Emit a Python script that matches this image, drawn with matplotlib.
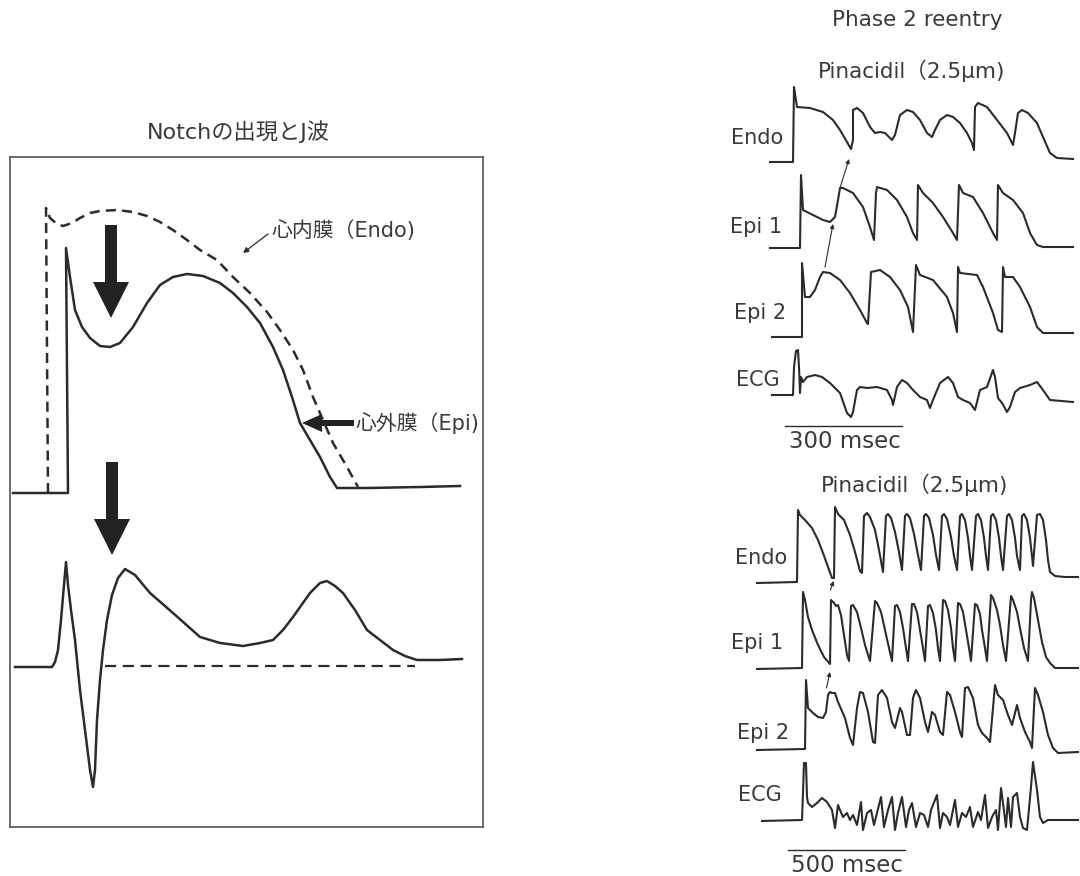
import numpy as np
import matplotlib
matplotlib.use("Agg")
import matplotlib.pyplot as plt
from matplotlib.patches import FancyArrow

FONT = ['DejaVu Sans', 'Noto Sans CJK JP']
plt.rcParams['font.family'] = FONT
INK = '#2b2b2b'
TXT = '#3a3a3a'

# ---------------- left panel data (time px, potential px; y grows downward) -------------
epi_ap = [(13,493),(68,493),(66,248),(70,277),(75,310),(82,327),(90,338),(100,346),(110,347),
          (120,343),(133,327),(147,303),(160,285),(173,277),(187,274),(203,276),(220,283),
          (233,293),(247,307),(260,323),(273,347),(283,370),(292,397),(300,423),(310,440),
          (320,457),(330,477),(337,488),(367,488),(420,487),(460,486)]
endo_ap = [(48,493),(46,208),(50,218),(57,224),(63,226),(72,223),(80,218),(90,213),(100,211),
           (117,210),(133,212),(147,216),(160,222),(173,230),(187,240),(200,250),(217,260),
           (233,277),(250,293),(267,312),(280,330),(293,350),(303,370),(313,397),(323,420),
           (333,443),(347,467),(358,487)]
ecg_left = [(15,667),(52,667),(55,662),(58,650),(61,620),(64,585),(66,562),(68,585),(71,610),
            (75,640),(80,690),(85,730),(90,770),(93,787),(95,770),(97,720),(100,680),(103,650),
            (107,620),(112,595),(118,578),(125,569),(135,575),(150,593),(173,613),(200,637),
            (220,643),(243,646),(260,643),(273,640),(283,630),(293,617),(310,593),(320,583),
            (327,581),(335,586),(343,593),(355,610),(367,630),(380,640),(393,650),(405,656),
            (417,660),(440,660),(462,659)]
ecg_baseline = [(105,666),(415,666)]

# ---------------- right panel, top (Phase 2 reentry) -------------
endo_top = [(770,162),(793,162),(794,87),(797,107),(810,108),(823,112),(833,120),(840,130),
            (847,142),(851,149),(853,140),(853,110),(857,108),(863,113),(870,127),(875,133),
            (880,132),(885,133),(892,140),(895,135),(900,115),(907,110),(913,112),(920,120),
            (927,133),(932,137),(935,130),(940,120),(947,115),(953,117),(960,123),(967,133),
            (972,143),(974,150),(975,107),(978,103),(987,107),(997,120),(1007,133),(1013,145),
            (1015,133),(1018,113),(1022,110),(1028,113),(1037,123),(1043,137),(1050,153),
            (1057,158),(1073,159)]
epi1_top = [(770,248),(800,248),(801,175),(803,210),(813,215),(823,220),(830,222),(835,217),
            (838,200),(840,188),(843,188),(853,193),(863,207),(870,227),(874,240),(876,193),
            (877,187),(887,190),(897,200),(907,217),(913,233),(917,240),(918,185),(923,193),
            (933,203),(943,217),(953,233),(957,240),(959,185),(963,193),(973,197),(983,213),
            (993,233),(997,240),(998,185),(1003,193),(1013,200),(1023,213),(1030,233),
            (1037,245),(1043,247),(1073,247)]
epi2_top = [(772,337),(802,337),(802,263),(805,297),(810,297),(815,290),(820,277),(823,272),
            (830,273),(840,280),(850,293),(860,310),(867,323),(868,324),(871,272),(880,270),
            (890,277),(900,290),(908,307),(913,332),(916,265),(920,275),(933,280),(947,297),
            (953,313),(957,332),(958,267),(960,273),(977,275),(983,287),(993,313),(998,330),
            (1002,332),(1003,267),(1005,277),(1013,277),(1020,287),(1030,307),(1037,327),
            (1043,333),(1073,333)]
ecg_top = [(772,395),(793,395),(794,367),(796,351),(798,350),(799,367),(800,393),(801,377),
           (803,382),(807,377),(815,375),(822,377),(830,383),(840,393),(847,413),(851,417),
           (853,412),(857,390),(860,387),(867,388),(877,387),(887,390),(892,400),(893,405),
           (897,387),(902,380),(907,383),(913,390),(920,397),(927,400),(930,408),(933,400),
           (940,383),(948,377),(953,383),(958,397),(963,400),(970,403),(975,410),(980,390),
           (987,387),(993,370),(995,377),(998,398),(1002,403),(1007,412),(1010,407),
           (1015,392),(1020,388),(1030,385),(1037,382),(1043,390),(1050,400),(1073,402)]

# ---------------- right panel, bottom -------------
endo_bot = [(757,583),(797,582),(798,510),(800,515),(805,520),(812,528),(818,540),(823,553),
            (828,567),(832,578),(834,578),(835,507),(838,514),(844,520),(850,535),(855,552),
            (860,571),(862,573),(864,516),(867,513),(870,517),(875,530),(879,550),(883,572),
            (886,516),(888,514),(891,518),(895,532),(899,552),(902,570),(905,516),(907,514),
            (910,518),(914,534),(918,555),(921,570),(924,516),(926,514),(929,518),(933,535),
            (936,555),(939,570),(942,516),(944,514),(947,519),(951,537),(954,556),(957,570),
            (960,516),(962,514),(965,520),(968,538),(970,556),(972,570),(976,516),(978,514),
            (981,520),(984,538),(986,556),(988,570),(991,516),(993,514),(996,520),(999,538),
            (1001,556),(1003,570),(1007,516),(1009,514),(1012,520),(1015,538),(1017,556),
            (1020,570),(1022,516),(1024,514),(1027,520),(1030,538),(1032,556),(1033,566),
            (1037,515),(1040,514),(1043,520),(1046,540),(1048,560),(1050,572),(1055,576),
            (1065,577),(1078,577)]
epi1_bot = [(757,669),(802,668),(803,592),(805,600),(808,617),(812,630),(818,645),(824,657),
            (830,664),(831,600),(834,603),(836,606),(838,605),(841,615),(844,635),(847,655),
            (849,661),(851,606),(853,605),(857,612),(861,628),(865,645),(869,658),(870,661),
            (875,601),(877,603),(881,612),(885,630),(889,648),(892,661),(895,606),(897,605),
            (900,612),(903,628),(906,648),(908,661),(912,604),(914,604),(917,612),(920,630),
            (923,648),(925,661),(928,606),(930,605),(933,613),(936,630),(938,648),(940,661),
            (943,600),(945,601),(948,610),(951,628),(953,648),(955,661),(958,603),(960,604),
            (963,612),(966,630),(969,648),(971,661),(975,604),(977,605),(980,614),(982,630),
            (985,648),(987,661),(991,595),(993,598),(997,610),(1000,625),(1003,645),(1006,661),
            (1011,596),(1013,600),(1017,612),(1020,628),(1024,648),(1028,661),(1031,600),
            (1032,592),(1034,598),(1038,620),(1042,642),(1046,657),(1050,663),(1055,668),
            (1078,668)]
epi2_bot = [(757,750),(805,749),(806,680),(808,708),(813,713),(818,717),(823,718),(826,712),
            (828,695),(830,692),(832,693),(835,693),(838,702),(845,718),(850,738),(853,745),
            (857,708),(860,692),(863,693),(868,712),(873,742),(875,743),(878,695),(882,690),
            (887,698),(892,722),(895,728),(900,708),(902,712),(907,735),(910,735),(913,698),
            (916,690),(920,698),(925,722),(928,732),(932,712),(935,715),(940,732),(943,735),
            (947,692),(950,695),(955,712),(960,732),(962,737),(965,688),(968,687),(973,698),
            (978,725),(982,733),(987,738),(990,742),(995,685),(998,695),(1003,700),(1008,715),
            (1012,725),(1017,705),(1020,718),(1025,732),(1030,742),(1032,748),(1035,688),
            (1038,695),(1043,712),(1048,735),(1053,748),(1058,753),(1078,752)]
ecg_bot = [(762,821),(802,820),(803,793),(804,763),(806,763),(807,797),(808,803),(812,807),
           (817,803),(822,798),(827,802),(832,810),(835,828),(838,805),(840,810),(843,817),
           (847,813),(850,820),(853,815),(857,825),(861,802),(863,830),(867,813),(871,810),
           (874,825),(877,813),(881,797),(884,827),(888,810),(892,797),(895,830),(898,813),
           (902,797),(906,827),(909,810),(912,803),(916,827),(920,813),(924,815),(928,827),
           (931,810),(937,795),(940,828),(943,813),(947,817),(950,825),(955,800),(958,827),
           (962,813),(966,817),(970,807),(973,827),(978,812),(981,820),(985,795),(988,828),
           (992,817),(996,810),(998,830),(1001,788),(1003,803),(1006,827),(1008,798),
           (1011,827),(1013,797),(1017,793),(1020,817),(1023,828),(1027,830),(1031,787),
           (1033,762),(1037,790),(1040,817),(1043,823),(1048,820),(1055,820),(1078,820)]

# text content
left_title = "Notchの出現とJ波"
endo_label = "心内膜（Endo)"
epi_label = "心外膜（Epi)"
right_title = "Phase 2 reentry"
drug_label = "Pinacidil（2.5μm)"
row_labels = ["Endo", "Epi 1", "Epi 2", "ECG"]
scale_top = "300 msec"
scale_bot = "500 msec"

# ------------------------------------------------------------------------------------
W, H = 1080, 876
fig = plt.figure(figsize=(W/100, H/100), dpi=100)
fig.patch.set_facecolor('white')

# main overlay axes in pixel units
ax = fig.add_axes([0, 0, 1, 1])
ax.set_xlim(0, W); ax.set_ylim(H, 0); ax.axis('off')

# left boxed panel
bx0, bx1, by0, by1 = 10, 483, 157, 827
axl = fig.add_axes([bx0/W, 1-by1/H, (bx1-bx0)/W, (by1-by0)/H])
axl.set_xlim(bx0, bx1); axl.set_ylim(by1, by0)
axl.set_xticks([]); axl.set_yticks([])
for s in axl.spines.values():
    s.set_color('#555555'); s.set_linewidth(1.2)
axl.patch.set_alpha(0)

def xy(pts):
    a = np.array(pts, dtype=float)
    return a[:, 0], a[:, 1]

axl.plot(*xy(epi_ap), color=INK, lw=1.8, solid_joinstyle='round')
axl.plot(*xy(endo_ap), color=INK, lw=1.8, ls=(0, (4, 2.5)))
axl.plot(*xy(ecg_left), color=INK, lw=1.8, solid_joinstyle='round')
axl.plot(*xy(ecg_baseline), color=INK, lw=1.6, ls=(0, (5, 3)))

# big arrows
for (x0, y0, y1) in [(111, 225, 318), (112, 462, 555)]:
    axl.add_patch(FancyArrow(x0, y0, 0, y1-y0, width=12, head_width=36, head_length=36,
                             length_includes_head=True, color='#222222', lw=0))
axl.add_patch(FancyArrow(354, 423, -52, 0, width=6, head_width=18, head_length=20,
                         length_includes_head=True, color='#222222', lw=0))
axl.annotate("", xy=(243, 253), xytext=(268, 234),
             arrowprops=dict(arrowstyle='-|>', color=INK, lw=0.9, mutation_scale=8,
                             shrinkA=0, shrinkB=0))

ax.text(238, 132, left_title, ha='center', va='center', fontsize=16, color=TXT)
ax.text(271, 231, endo_label, ha='left', va='center', fontsize=15, color=TXT)
ax.text(355, 423, epi_label, ha='left', va='center', fontsize=15, color=TXT)

# right panel traces
for tr in [endo_top, epi1_top, epi2_top, ecg_top, endo_bot, epi1_bot, epi2_bot, ecg_bot]:
    ax.plot(*xy(tr), color=INK, lw=1.5, solid_joinstyle='round')

ax.text(917, 20, right_title, ha='center', va='center', fontsize=15.5, color=TXT)
ax.text(912, 71, drug_label, ha='center', va='center', fontsize=15.5, color=TXT)
ax.text(915, 485, drug_label, ha='center', va='center', fontsize=15.5, color=TXT)

top_label_pos = [(783, 138), (782, 227), (786, 313), (780, 380)]
bot_label_pos = [(787, 558), (783, 643), (789, 733), (782, 795)]
for lab, (x, y) in zip(row_labels, top_label_pos):
    ax.text(x, y, lab, ha='right', va='center', fontsize=15, color=TXT)
for lab, (x, y) in zip(row_labels, bot_label_pos):
    ax.text(x, y, lab, ha='right', va='center', fontsize=15, color=TXT)

# small propagation arrows
for (xa, ya, xb, yb) in [(840, 188, 849, 159), (825, 267, 833, 224),
                         (830.5, 590, 833.5, 581), (826.5, 688, 830, 672)]:
    ax.annotate("", xy=(xb, yb), xytext=(xa, ya),
                arrowprops=dict(arrowstyle='-|>', color=INK, lw=0.8, mutation_scale=6,
                                shrinkA=0, shrinkB=0))

# scale bars
ax.plot([785, 902], [426, 426], color=INK, lw=1.0)
ax.text(845, 442, scale_top, ha='center', va='center', fontsize=16.5, color=TXT)
ax.plot([788, 905], [850, 850], color=INK, lw=1.0)
ax.text(847, 865, scale_bot, ha='center', va='center', fontsize=16.5, color=TXT)

fig.savefig("out.png", dpi=100, facecolor='white')
